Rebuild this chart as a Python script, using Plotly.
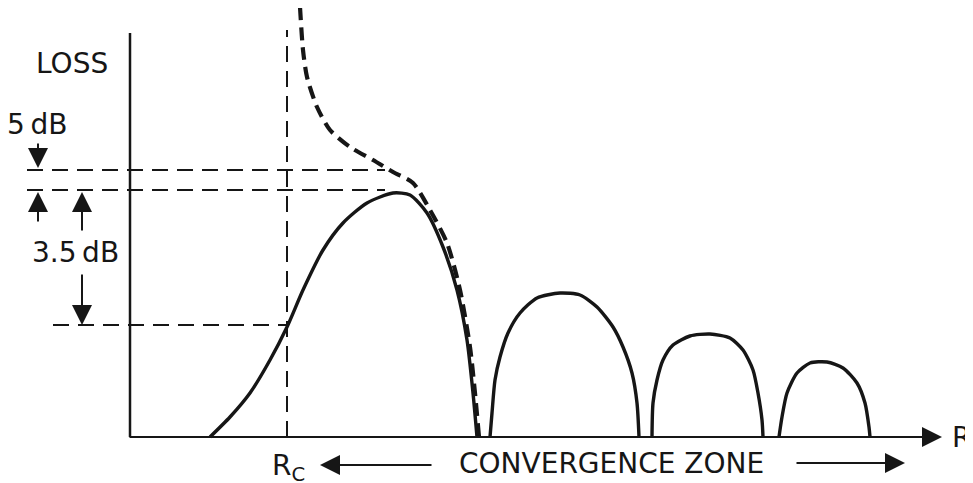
import plotly.graph_objects as go

# Units: R = horizontal position, loss = height above the R axis (both in px of the drawing)

# solid loss curve, direct path up to the shadow zone edge
main_r = [210, 230, 250, 270, 287, 303, 323, 343, 367, 393, 410, 427, 443, 457, 467, 473, 477]
main_loss = [0, 20, 44, 77, 110, 147, 187, 214, 234, 244, 242, 224, 190, 147, 97, 44, 0]

# dashed curve
dash_r = [300, 303, 307, 317, 330, 350, 373, 393, 413, 430, 447, 460, 470, 475, 479]
dash_loss = [430, 387, 360, 330, 307, 290, 277, 265, 254, 227, 194, 147, 90, 44, 0]

# convergence zone arches
arch1_r = [490, 492, 495, 500, 508, 520, 537, 560, 580, 597, 613, 623, 632, 637, 639]
arch1_loss = [0, 24, 57, 80, 104, 124, 139, 144, 142, 130, 110, 90, 64, 34, 0]
arch2_r = [652, 653, 657, 663, 673, 690, 710, 730, 743, 753, 758, 762, 763]
arch2_loss = [0, 34, 57, 77, 92, 101, 103, 99, 87, 67, 44, 17, 0]
arch3_r = [779, 782, 787, 797, 810, 827, 843, 857, 865, 869, 870]
arch3_loss = [0, 20, 44, 64, 74, 75, 69, 54, 34, 10, 0]

# reference levels and the R_C marker
level_5db = 267
level_peak = 247
level_rc = 112
r_c = 287

ink = '#161616'
font = dict(family='DejaVu Sans', size=28, color=ink)

fig = go.Figure()

# loss axis
fig.add_trace(go.Scatter(x=[130, 130], y=[0, 404], mode='lines', line=dict(color=ink, width=2.5)))

# dashed construction lines
guide = dict(color=ink, width=2, dash='16px,9px')
fig.add_trace(go.Scatter(x=[27, 385], y=[level_5db, level_5db], mode='lines', line=guide))
fig.add_trace(go.Scatter(x=[27, 385], y=[level_peak, level_peak], mode='lines', line=guide))
fig.add_trace(go.Scatter(x=[53, r_c], y=[level_rc, level_rc], mode='lines', line=guide))
fig.add_trace(go.Scatter(x=[r_c, r_c], y=[0, 407], mode='lines', line=guide))

# curves
solid = dict(color=ink, width=3.4, shape='spline', smoothing=0.7)
fig.add_trace(go.Scatter(x=dash_r, y=dash_loss, mode='lines',
                         line=dict(color=ink, width=4.2, dash='13px,7px', shape='spline', smoothing=0.7)))
fig.add_trace(go.Scatter(x=main_r, y=main_loss, mode='lines', line=solid))
fig.add_trace(go.Scatter(x=arch1_r, y=arch1_loss, mode='lines', line=solid))
fig.add_trace(go.Scatter(x=arch2_r, y=arch2_loss, mode='lines', line=solid))
fig.add_trace(go.Scatter(x=arch3_r, y=arch3_loss, mode='lines', line=solid))

# arrows: (tip x, tip y, tail x, tail y)
arrows = [
    (942, 0, 128, 0),
    (38, level_5db + 2, 38, 295),
    (38, level_peak - 2, 38, 214),
    (82, level_peak - 2, 82, 205),
    (82, level_rc, 82, 164),
    (320, -28, 433, -28),
    (905, -26, 795, -26),
]
for tx, ty, sx, sy in arrows:
    fig.add_annotation(x=tx, y=ty, ax=sx, ay=sy, xref='x', yref='y', axref='x', ayref='y',
                       text='', showarrow=True, arrowhead=2, arrowsize=2, arrowwidth=2,
                       arrowcolor=ink, standoff=0)

labels = [
    (72, 374, 'LOSS'),
    (37, 313, '5\u2009dB'),
    (75, 185, '3.5\u2009dB'),
    (961, 0, 'R'),
    (611, -26, 'CONVERGENCE ZONE'),
]
for lx, ly, txt in labels:
    fig.add_annotation(x=lx, y=ly, xref='x', yref='y', text=txt, showarrow=False,
                       font=font, xanchor='center', yanchor='middle')

fig.add_annotation(x=270, y=-30, xref='x', yref='y', text='R<sub>C</sub>', showarrow=False,
                   font=font, xanchor='left', yanchor='middle')

# the page adds an 8px body margin, so the ranges are offset to keep the drawing in place
fig.update_layout(width=973, height=483, margin=dict(l=0, r=0, t=0, b=0),
                  paper_bgcolor='white', plot_bgcolor='white', showlegend=False)
fig.update_xaxes(range=[8, 981], visible=False)
fig.update_yaxes(range=[-54, 429], visible=False)

fig.write_html('out.html')
